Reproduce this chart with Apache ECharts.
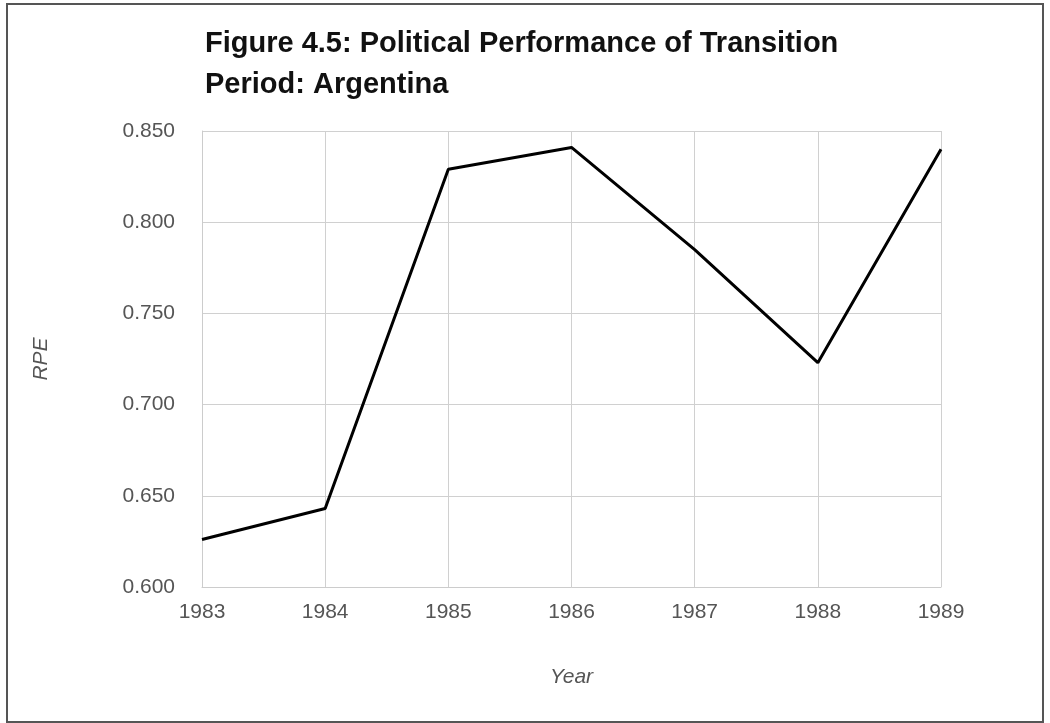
<!DOCTYPE html>
<html>
<head>
<meta charset="utf-8">
<script src="https://cdn.jsdelivr.net/npm/echarts@6/dist/echarts.min.js"></script>
<style>
  html, body { margin: 0; padding: 0; background: #fff; }
  #frame { position: absolute; left: 6px; top: 3px; width: 1034px; height: 716px; border: 2px solid #555; }
  #chart { position: absolute; left: 0; top: 0; width: 1050px; height: 723px; }
</style>
</head>
<body>
<div id="frame"></div>
<div id="chart"></div>
<script>
const years = ['1983', '1984', '1985', '1986', '1987', '1988', '1989'];
const rpe = [0.626, 0.643, 0.829, 0.841, 0.785, 0.723, 0.840];

const chart = echarts.init(document.getElementById('chart'));
chart.setOption({
    animation: false,
    title: {
        text: 'Figure 4.5: Political Performance of Transition\nPeriod: Argentina',
        left: 200, top: 18,
        textStyle: { fontFamily: 'Liberation Sans', fontSize: 29, fontWeight: 'bold', color: '#111', lineHeight: 41 }
    },
    grid: { left: 202, right: 109, top: 131, bottom: 136 },
    xAxis: {
        type: 'category', data: years, boundaryGap: false,
        name: 'Year', nameLocation: 'middle', nameGap: 80,
        nameTextStyle: { fontFamily: 'Liberation Sans', fontStyle: 'italic', fontSize: 21, color: '#555' },
        axisLine: { lineStyle: { color: '#ccc' } },
        axisTick: { show: false },
        axisLabel: { fontFamily: 'Liberation Sans', fontSize: 21, color: '#555', margin: 15 },
        splitLine: { show: true, lineStyle: { color: '#d0d0d0', width: 1 } }
    },
    yAxis: {
        type: 'value', min: 0.6, max: 0.85, interval: 0.05,
        name: 'RPE', nameLocation: 'middle', nameGap: 150,
        nameTextStyle: { fontFamily: 'Liberation Sans', fontStyle: 'italic', fontSize: 21, color: '#555' },
        axisLine: { show: true, lineStyle: { color: '#ccc' } },
        axisTick: { show: false },
        axisLabel: { fontFamily: 'Liberation Sans', fontSize: 21, color: '#555', margin: 27, formatter: v => v.toFixed(3) },
        splitLine: { show: true, lineStyle: { color: '#d0d0d0', width: 1 } }
    },
    series: [{
        type: 'line', data: rpe, symbol: 'none',
        lineStyle: { color: '#000', width: 3 }
    }]
});
</script>
</body>
</html>
